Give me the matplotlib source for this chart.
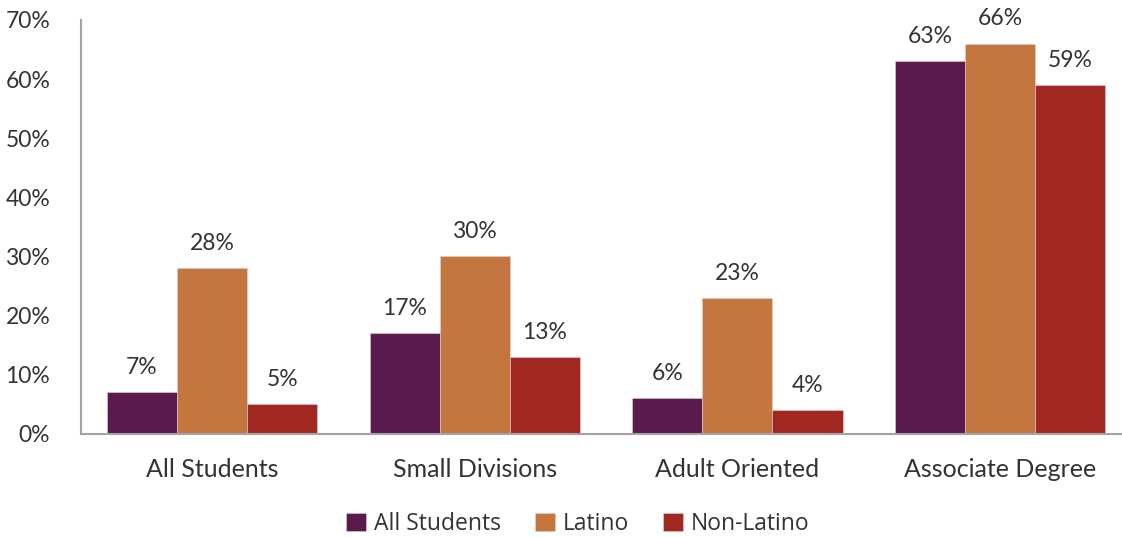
import matplotlib.pyplot as plt
import numpy as np

categories = ['All Students', 'Small Divisions', 'Adult Oriented', 'Associate Degree']
series_names = ['All Students', 'Latino', 'Non-Latino']
all_students = [7, 17, 6, 63]
latino = [28, 30, 23, 66]
non_latino = [5, 13, 4, 59]
y_ticks = [0, 10, 20, 30, 40, 50, 60, 70]

colors = ['#5A1A4E', '#C3773F', '#A12821']
text_color = '#333333'
axis_color = '#A3A3A8'

fig = plt.figure(figsize=(11.22, 5.37), dpi=100)
ax = fig.add_axes([0.072, 0.192, 0.941, 0.771])

x = np.arange(len(categories))
width = 0.267
for i, (name, vals) in enumerate(zip(series_names, [all_students, latino, non_latino])):
    pos = x + (i - 1) * width
    ax.bar(pos, vals, width, color=colors[i], label=name, edgecolor='#E0D0D8', linewidth=0.4)
    for px, v in zip(pos, vals):
        ax.text(px, v + 2.4, f'{v}%', ha='center', va='bottom', fontsize=16.5,
                family='Lato', color=text_color)

ax.set_xlim(-0.5, 3.52)
ax.set_ylim(0, 70)
ax.set_yticks(y_ticks)
ax.set_yticklabels([f'{t}%' for t in y_ticks], fontsize=16.5, family='Lato', color=text_color)
ax.set_xticks(x)
ax.set_xticklabels(categories, fontsize=18, family='Lato', color=text_color)
ax.tick_params(axis='both', length=0)
ax.tick_params(axis='x', pad=17)
ax.tick_params(axis='y', pad=22)
for side in ['top', 'right']:
    ax.spines[side].set_visible(False)
for side in ['left', 'bottom']:
    ax.spines[side].set_color(axis_color)
    ax.spines[side].set_linewidth(1.5)

ax.legend(loc='center', bbox_to_anchor=(0.515, 0.024), bbox_transform=fig.transFigure,
          ncol=3, frameon=False, prop={'family': 'Open Sans', 'size': 16.5},
          handlelength=0.85, handleheight=0.85, handletextpad=0.35, columnspacing=1.5,
          labelcolor=text_color)

fig.savefig('out.png', dpi=100)
